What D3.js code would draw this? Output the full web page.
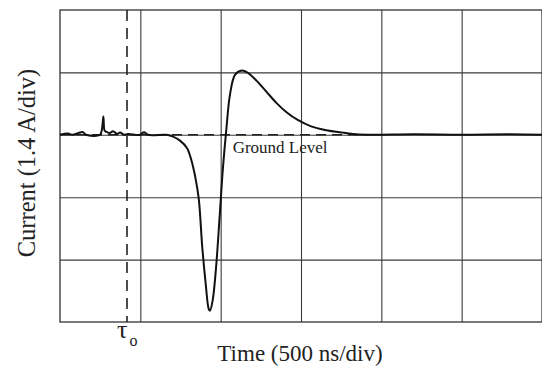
<!DOCTYPE html>
<html>
<head>
<meta charset="utf-8">
<script src="https://cdn.jsdelivr.net/npm/d3@7"></script>
<style>
  html, body { margin: 0; padding: 0; background: #fff; }
  svg { display: block; font-family: "Liberation Serif", "DejaVu Serif", serif; }
</style>
</head>
<body>
<div id="chart"></div>
<script>
// scope trace: time in ns, current in A
var timeNs = [0, 50, 75, 125, 143, 162, 249, 262, 270, 277, 286, 311, 330, 355, 374, 399, 423, 498, 523, 548,
  664, 704, 747, 791, 816, 842, 864, 885, 907, 925, 933, 950, 971, 993, 1014, 1036, 1058, 1090, 1133, 1165,
  1219, 1284, 1348, 1412, 1477, 1563, 1649, 1779, 1843, 1950, 2200, 2500, 2800, 3000];
var currentA = [0, 0.03, 0, 0.05, 0.06, 0, 0, 0.15, 0.41, 0.1, 0.07, 0.04, 0.08, 0.02, 0.05, 0, 0.02, 0, 0.06, 0,
  0, -0.04, -0.13, -0.3, -0.55, -0.95, -1.45, -2.5, -3.35, -3.9, -3.95, -3.72, -2.99, -1.87, -0.75, 0.15, 0.9, 1.35, 1.44, 1.4,
  1.23, 0.97, 0.71, 0.5, 0.34, 0.19, 0.11, 0.04, 0.01, 0, 0.01, 0, 0.01, 0];
var timeTicks = [500, 1000, 1500, 2000, 2500];
var currentTicks = [-2.8, -1.4, 0, 1.4];
var tau0 = 417;
var groundEnd = 1900;

var width = 542;
var height = 371;
var margin = { left: 60, top: 10, right: 0, bottom: 49 };

var x = d3.scaleLinear().domain([0, 3000]).range([margin.left, width - margin.right]);
var y = d3.scaleLinear().domain([-4.2, 2.8]).range([height - margin.bottom, margin.top]);

var svg = d3.select("#chart").append("svg").attr("width", width).attr("height", height);

// grid
svg.append("g").attr("transform", "translate(0," + y(-4.2) + ")")
  .call(d3.axisBottom(x).tickValues(timeTicks).tickSize(-(y(-4.2) - y(2.8))).tickFormat(""));
svg.append("g").attr("transform", "translate(" + x(0) + ",0)")
  .call(d3.axisLeft(y).tickValues(currentTicks).tickSize(-(x(3000) - x(0))).tickFormat(""));
svg.selectAll(".tick line").attr("stroke", "#3a3a3a").attr("stroke-width", 1.1);
svg.selectAll(".domain").remove();

// frame
svg.append("rect")
  .attr("x", x(0)).attr("y", y(2.8))
  .attr("width", x(3000) - x(0)).attr("height", y(-4.2) - y(2.8))
  .attr("fill", "none").attr("stroke", "#333").attr("stroke-width", 1.3);

// ground level dashed line
svg.append("line")
  .attr("x1", x(0)).attr("x2", x(groundEnd))
  .attr("y1", y(0)).attr("y2", y(0))
  .attr("stroke", "#222").attr("stroke-width", 1.4).attr("stroke-dasharray", "10,6");

// tau line
svg.append("line")
  .attr("x1", x(tau0)).attr("x2", x(tau0))
  .attr("y1", y(2.8)).attr("y2", y(-4.2))
  .attr("stroke", "#222").attr("stroke-width", 1.6).attr("stroke-dasharray", "11,7");

// trace
var line = d3.line()
  .x(function (d, i) { return x(timeNs[i]); })
  .y(function (d) { return y(d); })
  .curve(d3.curveCatmullRom.alpha(0.5));
svg.append("path")
  .attr("d", line(currentA))
  .attr("fill", "none").attr("stroke", "#111").attr("stroke-width", 2);

// labels
svg.append("text").attr("x", x(1370)).attr("y", y(0) + 18)
  .attr("text-anchor", "middle").attr("font-size", 17).attr("fill", "#222").text("Ground Level");

svg.append("text").attr("x", 300).attr("y", 361)
  .attr("text-anchor", "middle").attr("font-size", 23).attr("fill", "#222").text("Time (500 ns/div)");

svg.append("text").attr("transform", "translate(35," + 163 + ") rotate(-90)")
  .attr("text-anchor", "middle").attr("font-size", 24.5).attr("fill", "#222").text("Current (1.4 A/div)");

var tau = svg.append("text").attr("x", x(tau0) - 10).attr("y", 338)
  .attr("font-size", 26).attr("fill", "#222");
tau.append("tspan").text("τ");
tau.append("tspan").attr("font-size", 16).attr("dy", 8).attr("dx", 2).text("o");
</script>
</body>
</html>
